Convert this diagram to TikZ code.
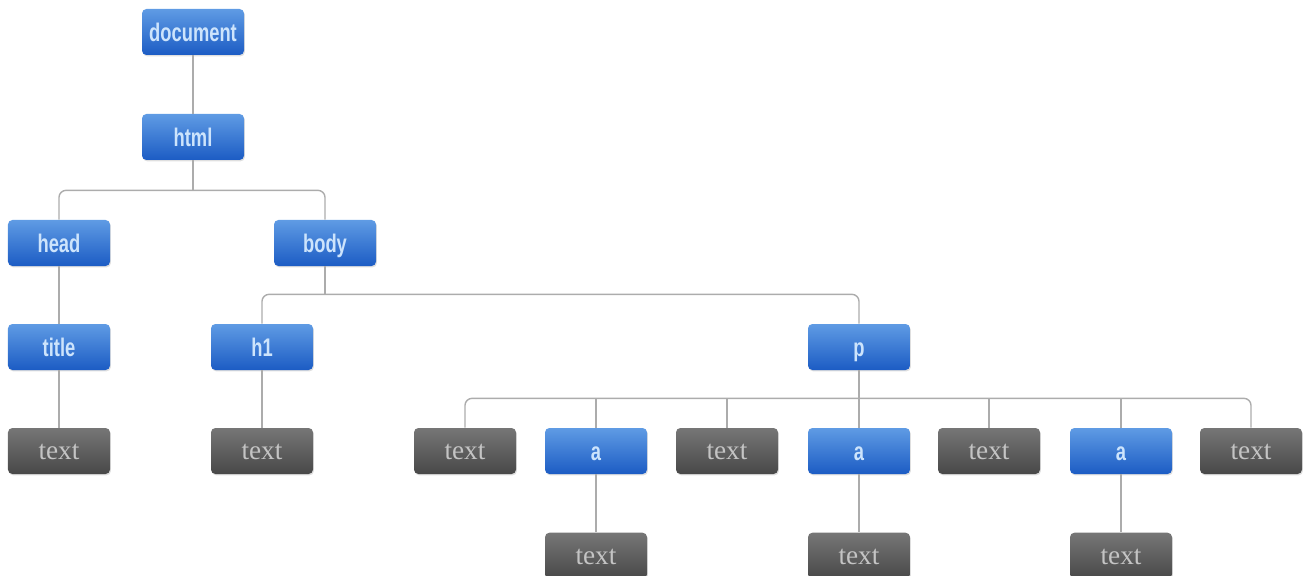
\documentclass[tikz,border=0pt]{standalone}
\usepackage{fontspec}
\setmainfont{Liberation Serif}
\newfontfamily\tagfont[FakeStretch=0.72]{Liberation Sans}
\usetikzlibrary{shadows,positioning}

\definecolor{tagtop}{RGB}{95,155,228}
\definecolor{tagbot}{RGB}{28,92,196}
\definecolor{tagtext}{RGB}{205,228,252}
\definecolor{txttop}{RGB}{118,118,118}
\definecolor{txtbot}{RGB}{72,72,72}
\definecolor{txttext}{RGB}{196,196,196}
\definecolor{edgegray}{RGB}{172,172,172}

\tikzset{
  box/.style={rounded corners=2.5pt, minimum width=2.04cm, minimum height=0.92cm,
    inner sep=0pt, text depth=0pt,
    drop shadow={shadow xshift=0.5pt, shadow yshift=-0.8pt, opacity=.25}},
  tag/.style={box, top color=tagtop, bottom color=tagbot, text height=10.5pt,
    text=tagtext, font=\tagfont\bfseries\fontsize{14.5}{16}\selectfont},
  leaf/.style={box, top color=txttop, bottom color=txtbot, text height=10pt,
    text=txttext, font=\fontsize{15.5}{17}\selectfont},
  edge/.style={draw=edgegray, line width=0.8pt, rounded corners=4pt},
}

\begin{document}
\begin{tikzpicture}
  \useasboundingbox (0,0) rectangle (26.14,-11.52);
  % element nodes
  \node[tag] (doc)  at (3.86,-0.64) {document};
  \node[tag] (html) at (3.86,-2.74) {html};
  \node[tag] (head) at (1.18,-4.86) {head};
  \node[tag] (body) at (6.50,-4.86) {body};
  \node[tag] (title) at (1.18,-6.94) {title};
  \node[tag] (h1)   at (5.24,-6.94) {h1};
  \node[tag] (p)    at (17.18,-6.94) {p};
  \node[leaf] (ttitle) at (1.18,-9.02) {text};
  \node[leaf] (th1)    at (5.24,-9.02) {text};
  % children of p
  \foreach \x/\n/\s/\l in {9.30/pc1/leaf/text, 11.92/pc2/tag/a, 14.54/pc3/leaf/text,
      17.18/pc4/tag/a, 19.78/pc5/leaf/text, 22.42/pc6/tag/a, 25.02/pc7/leaf/text} {
    \node[\s] (\n) at (\x,-9.02) {\l};
  }
  \foreach \n in {2,4,6} {
    \node[leaf, below=1.16cm of pc\n] (ta\n) {text};
  }
  % connectors
  \draw[edge] (doc) -- (html);
  \draw[edge] (html.south) -- ++(0,-0.6) coordinate (hbus);
  \draw[edge] (head.north) |- (hbus) -| (body.north);
  \draw[edge] (head) -- (title);
  \draw[edge] (title) -- (ttitle);
  \draw[edge] (body.south) -- ++(0,-0.56) coordinate (bbus);
  \draw[edge] (h1.north) |- (bbus) -| (p.north);
  \draw[edge] (h1) -- (th1);
  \draw[edge] (p.south) -- (pc4.north);
  \path (p.south) -- ++(0,-0.56) coordinate (pbus);
  \draw[edge] (pc1.north) |- (pbus) -| (pc7.north);
  \foreach \i in {2,3,5,6} {
    \draw[edge] (pc\i.north) -- (pc\i.north |- pbus);
  }
  \foreach \n in {2,4,6} {
    \draw[edge] (pc\n) -- (ta\n);
  }
\end{tikzpicture}
\end{document}
